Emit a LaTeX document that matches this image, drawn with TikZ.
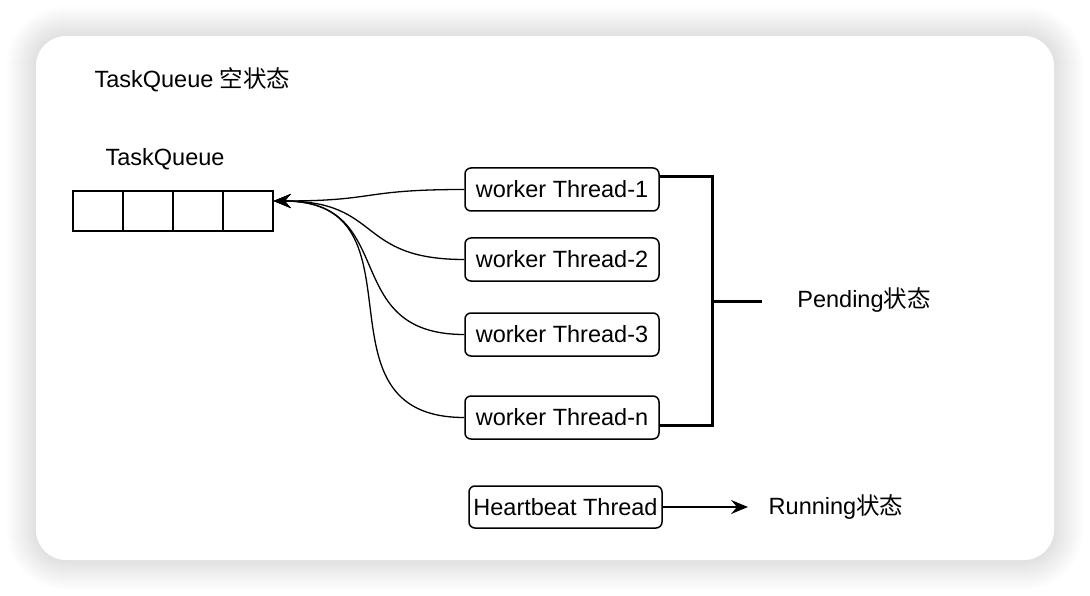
\documentclass[tikz,border=0pt]{standalone}
\usepackage{fontspec}
\setmainfont{Liberation Sans}
\newfontfamily\cjk{Noto Sans CJK SC}
\usetikzlibrary{arrows.meta, positioning}

\tikzset{
    cell/.style={draw, line width=1.5pt, minimum width=50pt, minimum height=40pt, inner sep=0pt},
    thread/.style={draw, line width=1.5pt, rounded corners=6pt, minimum width=194pt, minimum height=43pt, inner sep=0pt},
    fetch/.style={line width=1.3pt, -{Stealth[length=17pt,width=14pt,inset=6pt]}},
    bracket/.style={line width=3pt},
}

\begin{document}
\begin{tikzpicture}[x=1pt, y=-1pt, font=\fontsize{23.5}{28}\selectfont]
    \useasboundingbox (0,0) rectangle (1090,596);
    \fill[white] (0,0) rectangle (1090,596);
    % shadow round the card
    \foreach \i in {1,...,30}
        \fill[black, opacity=0.0045, rounded corners=30pt+\i pt]
            (36-\i,36-\i) rectangle (1054+\i,560+\i);
    \fill[white, rounded corners=30pt] (36,36) rectangle (1054,560);

    \node[anchor=west] (title) at (91, 80) {TaskQueue {\cjk 空状态}};
    \node (qlabel) at (165, 159) {TaskQueue};
    \foreach \k/\x in {1/98, 2/148, 3/198, 4/248}
        \node[cell] (q\k) at (\x, 211) {};
    \coordinate (qin) at ([yshift=10pt]q4.east);

    \node[thread] (w1) at (562, 189.5) {worker Thread-1};
    \node[thread] (w2) at (562, 259.5) {worker Thread-2};
    \node[thread] (w3) at (562, 334.5) {worker Thread-3};
    \node[thread] (wn) at (562, 417.5) {worker Thread-n};

    \foreach \w in {w1, w2, w3, wn}
        \draw[fetch] (\w.west) to[out=180, in=0, looseness=1.4] (qin);

    % bracket for the pending threads
    \coordinate (btop) at (712, 177);
    \coordinate (bbot) at (712, 425);
    \coordinate (bmid) at (712, 301);
    \draw[bracket] (w1.east |- btop) -- (btop) -- (bbot) -- (wn.east |- bbot);
    \draw[bracket] (bmid) -- ++(50, 0);
    \node (pending) at (864, 300) {Pending{\cjk 状态}};

    \node[thread, minimum width=193pt, minimum height=42pt] (hb) at (565.5, 507) {Heartbeat Thread};
    \coordinate (hbend) at (748, 507);
    \draw[fetch] (hb.east) -- (hbend);
    \node (running) at (836, 507) {Running{\cjk 状态}};
\end{tikzpicture}
\end{document}
